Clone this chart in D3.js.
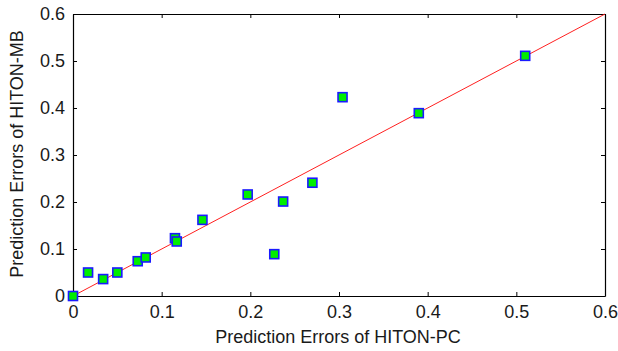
<!DOCTYPE html>
<html>
<head>
<meta charset="utf-8">
<script src="https://cdn.jsdelivr.net/npm/d3@7"></script>
<style>
  body { margin: 0; background: #fff; }
  svg text { font-family: "Liberation Sans", Arial, sans-serif; fill: #1a1a1a; }
</style>
</head>
<body>
<svg id="chart"></svg>
<script>
// errors of HITON-PC (x) vs HITON-MB (y)
const pcErrors = [0, 0.017, 0.034, 0.050, 0.073, 0.082, 0.115, 0.117, 0.146, 0.197, 0.227, 0.237, 0.270, 0.304, 0.390, 0.510];
const mbErrors = [0, 0.050, 0.036, 0.050, 0.074, 0.082, 0.123, 0.116, 0.162, 0.216, 0.089, 0.201, 0.241, 0.423, 0.389, 0.511];
const tickValues = [0, 0.1, 0.2, 0.3, 0.4, 0.5, 0.6];
const diagonal = [0, 0.6];

const width = 618, height = 351;
const margin = {top: 14, right: 13, bottom: 55, left: 73};
const w = width - margin.left - margin.right;
const h = height - margin.top - margin.bottom;

const svg = d3.select('#chart')
  .attr('width', width)
  .attr('height', height);

const chart = svg.append('g')
  .attr('transform', `translate(${margin.left},${margin.top})`);

const xScale = d3.scaleLinear().domain([0, 0.6]).range([0, w]);
const yScale = d3.scaleLinear().domain([0, 0.6]).range([h, 0]);

const fmt = d => d === 0 ? '0' : d3.format('.1f')(d);

// axes, ticks pointing inward
chart.append('g')
  .attr('transform', `translate(0,${h})`)
  .call(d3.axisBottom(xScale).tickValues(tickValues).tickFormat(fmt).tickSize(-4).tickPadding(9).tickSizeOuter(0));
chart.append('g')
  .call(d3.axisLeft(yScale).tickValues(tickValues).tickFormat(fmt).tickSize(-4).tickPadding(8).tickSizeOuter(0));
chart.append('g')
  .call(d3.axisTop(xScale).tickValues(tickValues).tickFormat('').tickSize(-4).tickSizeOuter(0));
chart.append('g')
  .attr('transform', `translate(${w},0)`)
  .call(d3.axisRight(yScale).tickValues(tickValues).tickFormat('').tickSize(-4).tickSizeOuter(0));

chart.selectAll('.domain').attr('stroke', '#000').attr('stroke-width', 1.2);
chart.selectAll('.tick line').attr('stroke', '#000');
chart.selectAll('.tick text').style('font-size', '18px');

// y = x reference line
chart.append('line')
  .attr('x1', xScale(diagonal[0])).attr('y1', yScale(diagonal[0]))
  .attr('x2', xScale(diagonal[1])).attr('y2', yScale(diagonal[1]))
  .attr('stroke', '#ff2020')
  .attr('stroke-width', 1);

const pts = pcErrors.map((x, i) => ({x, y: mbErrors[i]}));
const s = 9;
chart.selectAll('rect.pt')
  .data(pts)
  .join('rect')
  .attr('class', 'pt')
  .attr('x', d => xScale(d.x) - s / 2)
  .attr('y', d => yScale(d.y) - s / 2)
  .attr('width', s)
  .attr('height', s)
  .attr('fill', '#00ee00')
  .attr('stroke', '#1a1aff')
  .attr('stroke-width', 1.6);

svg.append('text')
  .attr('x', 338)
  .attr('y', 343)
  .attr('text-anchor', 'middle')
  .style('font-size', '18px')
  .text('Prediction Errors of HITON-PC');

svg.append('text')
  .attr('transform', 'translate(23,154) rotate(-90)')
  .attr('text-anchor', 'middle')
  .style('font-size', '18px')
  .text('Prediction Errors of HITON-MB');
</script>
</body>
</html>
